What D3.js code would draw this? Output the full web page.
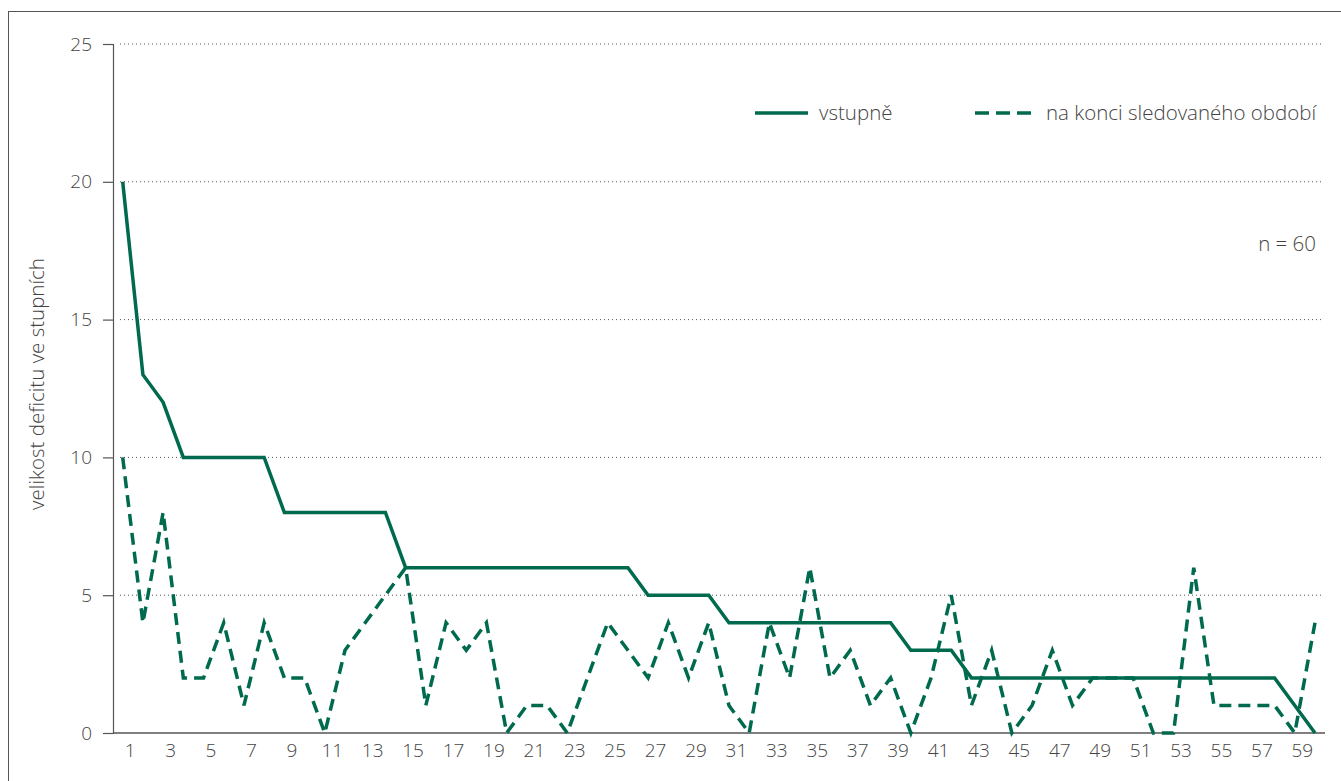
<!DOCTYPE html>
<html><head><meta charset="utf-8">
<script src="https://cdn.jsdelivr.net/npm/d3@7"></script>
<style>
html,body{margin:0;padding:0;background:#fff;}
svg{display:block;font-family:"Open Sans",sans-serif;}
</style></head>
<body><svg id="c" width="1341" height="781"></svg>
<script>
const patients = d3.range(1, 61);
const initialDeficit = [20,13,12,10,10,10,10,10,8,8,8,8,8,8,6,6,6,6,6,6,6,6,6,6,6,6,5,5,5,5,4,4,4,4,4,4,4,4,4,3,3,3,2,2,2,2,2,2,2,2,2,2,2,2,2,2,2,2,1,0];
const finalDeficit = [10,4,8,2,2,4,1,4,2,2,0,3,4,5,6,1,4,3,4,0,1,1,0,2,4,3,2,4,2,4,1,0,4,2,6,2,3,1,2,0,2,5,1,3,0,1,3,1,2,2,2,0,0,6,1,1,1,1,0,4];
const xTickLabels = d3.range(1, 60, 2);
const yTickLabels = [0,5,10,15,20,25];
const seriesNames = ["vstupně", "na konci sledovaného období"];

const color = "#006a4e";
const textColor = "#444";
const svg = d3.select("#c");

// frame
svg.append("rect").attr("x",8.5).attr("y",11.5).attr("width",1400).attr("height",900)
  .attr("fill","none").attr("stroke","#555").attr("stroke-width",1);

const x = d3.scaleLinear().domain([1,60]).range([122.7,1315]);
const y = d3.scaleLinear().domain([0,25]).range([733,44]);

// gridlines
svg.append("g").selectAll("line").data(yTickLabels.filter(d=>d>0)).join("line")
  .attr("x1",120).attr("x2",1322).attr("y1",d=>y(d)).attr("y2",d=>y(d))
  .attr("stroke","#555").attr("stroke-width",1).attr("stroke-dasharray","1,3");

// y axis
const ya = svg.append("g").attr("transform","translate(113,0)")
  .call(d3.axisLeft(y).tickValues(yTickLabels).tickSize(10).tickPadding(11));
ya.select(".domain").attr("stroke","#555").attr("stroke-width",1.2);
ya.selectAll(".tick line").attr("stroke","#555").attr("stroke-width",1.2);
ya.selectAll("text").attr("font-size",19).attr("fill",textColor).attr("font-family","Open Sans").attr("font-weight",300);

// x axis
const xa = svg.append("g").attr("transform","translate(0,733)")
  .call(d3.axisBottom(x).tickValues(xTickLabels).tickSize(0).tickPadding(11).tickFormat(d3.format("d")));
xa.select(".domain").remove();
xa.selectAll("text").attr("font-size",19).attr("fill",textColor).attr("dx",7).attr("font-family","Open Sans").attr("font-weight",300);
svg.append("line").attr("x1",113).attr("x2",1325).attr("y1",733).attr("y2",733)
  .attr("stroke","#555").attr("stroke-width",1.4);

// y label
svg.append("text").attr("transform","translate(44,384) rotate(-90)")
  .attr("text-anchor","middle").attr("font-size",20.5).attr("fill",textColor).attr("font-weight",300)
  .text("velikost deficitu ve stupních");

const line = d3.line().x((d,i)=>x(patients[i])).y(d=>y(d));
svg.append("path").datum(initialDeficit).attr("d",line).attr("fill","none")
  .attr("stroke",color).attr("stroke-width",3.5).attr("stroke-linejoin","miter");
svg.append("path").datum(finalDeficit).attr("d",line).attr("fill","none")
  .attr("stroke",color).attr("stroke-width",3.5).attr("stroke-dasharray","12,7").attr("stroke-linejoin","miter");

// legend
const lg = svg.append("g");
lg.append("line").attr("x1",755).attr("x2",808).attr("y1",113).attr("y2",113)
  .attr("stroke",color).attr("stroke-width",3.5);
lg.append("text").attr("x",819).attr("y",120).attr("font-size",20.5).attr("fill",textColor).attr("font-weight",300).text(seriesNames[0]);
lg.append("line").attr("x1",975).attr("x2",1031).attr("y1",113).attr("y2",113)
  .attr("stroke",color).attr("stroke-width",3.5).attr("stroke-dasharray","14,7");
lg.append("text").attr("x",1046).attr("y",120).attr("font-size",20.5).attr("fill",textColor).attr("font-weight",300).text(seriesNames[1]);

svg.append("text").attr("x",1316).attr("y",251).attr("text-anchor","end")
  .attr("font-size",20.5).attr("fill",textColor).attr("font-weight",300).text("n = 60");
</script></body></html>
